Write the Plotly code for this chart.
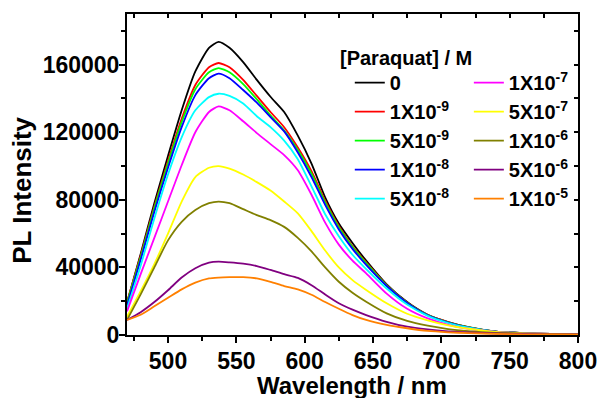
import plotly.graph_objects as go

# Emission wavelengths (nm)
wavelength = [470, 480, 490, 500, 510, 520, 530, 537, 545, 555, 565, 575, 585, 595,
              605, 615, 625, 635, 645, 660, 675, 690, 705, 720, 740, 760, 780, 800]

# PL intensity for each paraquat concentration
pl_0 = [19000, 48000, 78000, 106000, 133000, 156000, 170000, 173500, 170000, 161500, 151000, 141000, 132000, 118000,
        101500, 81500, 66000, 54500, 44000, 30000, 19500, 12000, 7700, 4600, 2000, 1100, 700, 500]
pl_1e9 = [19500, 47000, 76000, 103000, 128000, 148000, 158500, 161000, 158500, 151000, 141500, 132000, 123000, 111000,
          97000, 79500, 64500, 52500, 43000, 29500, 19300, 11900, 7600, 4500, 2000, 1100, 700, 500]
pl_5e9 = [19000, 46000, 75000, 101500, 126000, 145500, 155500, 158000, 155500, 148500, 139500, 130000, 121000, 109500,
          95500, 78500, 63800, 52000, 42500, 29300, 19100, 11800, 7500, 4500, 2000, 1100, 700, 500]
pl_1e8 = [17500, 44500, 73000, 99000, 123000, 142000, 152000, 154700, 152000, 145000, 137500, 129000, 120500, 108000,
          93500, 77000, 62500, 51000, 41500, 29000, 19000, 11700, 7400, 4400, 2000, 1100, 700, 500]
pl_5e8 = [15500, 41000, 69000, 95000, 117000, 133000, 140800, 142800, 141500, 137000, 129500, 123000, 115000, 104000,
          88000, 71500, 58500, 47500, 39000, 27500, 18000, 11300, 7100, 4300, 1900, 1000, 650, 450]
pl_1e7 = [14000, 36000, 57500, 79000, 100500, 120000, 132000, 135300, 133000, 126500, 119500, 113000, 106500, 97500,
          83000, 66500, 53500, 44000, 36500, 24500, 15500, 9800, 6000, 3700, 1800, 1000, 600, 400]
pl_5e7 = [10800, 26000, 42000, 60000, 79000, 93500, 99000, 100000, 98500, 95000, 90500, 85500, 79000, 72000,
          61500, 50000, 40000, 32500, 26700, 18800, 12600, 8700, 5700, 3700, 1800, 1000, 600, 400]
pl_1e6 = [8900, 24000, 40000, 56000, 67000, 74000, 78000, 79000, 78000, 74500, 71000, 68000, 64000, 57500,
          49500, 40000, 31500, 25000, 19700, 12800, 8300, 5500, 3500, 2300, 1300, 800, 500, 300]
pl_5e6 = [8900, 13500, 19500, 26500, 34000, 39500, 42800, 43400, 43000, 42200, 40800, 38500, 36000, 33800,
          29500, 24000, 18800, 15000, 11800, 7800, 4900, 3300, 2200, 1500, 900, 600, 400, 300]
pl_1e5 = [8900, 12000, 17000, 22000, 27000, 31000, 33500, 34000, 34200, 34200, 33500, 31500, 29000, 27000,
          23800, 19500, 15500, 11800, 8900, 6000, 4000, 2400, 1600, 1100, 700, 400, 300, 200]

series = [
    ("0", pl_0, "#000000", "legend"),
    ("1X10<sup>-9</sup>", pl_1e9, "#FF0000", "legend"),
    ("5X10<sup>-9</sup>", pl_5e9, "#00FF00", "legend"),
    ("1X10<sup>-8</sup>", pl_1e8, "#0000FF", "legend"),
    ("5X10<sup>-8</sup>", pl_5e8, "#00FFFF", "legend"),
    ("1X10<sup>-7</sup>", pl_1e7, "#FF00FF", "legend2"),
    ("5X10<sup>-7</sup>", pl_5e7, "#FFFF00", "legend2"),
    ("1X10<sup>-6</sup>", pl_1e6, "#808000", "legend2"),
    ("5X10<sup>-6</sup>", pl_5e6, "#800080", "legend2"),
    ("1X10<sup>-5</sup>", pl_1e5, "#FF8000", "legend2"),
]

FONT = "Liberation Sans, Arial, sans-serif"

fig = go.Figure()
for name, vals, color, lg in series:
    fig.add_trace(go.Scatter(
        x=wavelength, y=vals, mode="lines", name=name,
        line=dict(color=color, width=1.8, shape="spline", smoothing=0.6),
        legend=lg,
    ))

# empty trace so the top/right frame axes get drawn
fig.add_trace(go.Scatter(x=[], y=[], xaxis="x2", yaxis="y2", showlegend=False, hoverinfo="skip"))

legend_style = dict(
    font=dict(family=FONT, size=20, color="black", weight="bold"),
    bgcolor="rgba(0,0,0,0)", borderwidth=0, yanchor="top", xanchor="left",
    traceorder="normal", tracegroupgap=0,
)

fig.update_layout(
    width=598, height=398,
    margin=dict(l=127, r=20, t=14, b=63, autoexpand=False),
    paper_bgcolor="white", plot_bgcolor="white",
    font=dict(family=FONT, color="black", weight="bold"),
    showlegend=True,
    legend=dict(x=0.494, y=0.847, **legend_style),
    legend2=dict(x=0.758, y=0.847, **legend_style),
    xaxis=dict(
        range=[470, 800], tickvals=[500, 550, 600, 650, 700, 750, 800],
        ticks="outside", ticklen=6, tickwidth=2, tickcolor="black",
        minor=dict(tickvals=[475, 525, 575, 625, 675, 725, 775], ticks="outside",
                   ticklen=4, tickwidth=2, tickcolor="black"),
        showline=True, linewidth=2, linecolor="black", showgrid=False, zeroline=False,
        tickfont=dict(family=FONT, size=23, color="black", weight="bold"),
        ticklabelstandoff=-2,
        automargin=False,
    ),
    yaxis=dict(
        range=[0, 190000], tickvals=[0, 40000, 80000, 120000, 160000], tickformat="d",
        ticks="outside", ticklen=6, tickwidth=2, tickcolor="black",
        minor=dict(tickvals=[20000, 60000, 100000, 140000, 180000], ticks="outside",
                   ticklen=4, tickwidth=2, tickcolor="black"),
        showline=True, linewidth=2, linecolor="black", showgrid=False, zeroline=False,
        tickfont=dict(family=FONT, size=23, color="black", weight="bold"),
        ticklabelstandoff=-5,
        automargin=False,
    ),
    # frame with inward ticks on top and right
    xaxis2=dict(
        overlaying="x", anchor="y2", side="top", range=[470, 800],
        tickvals=[475, 500, 525, 550, 575, 600, 625, 650, 675, 700, 725, 750, 775],
        ticks="inside", ticklen=4, tickwidth=2, tickcolor="black", showticklabels=False,
        showline=True, linewidth=2, linecolor="black", showgrid=False, zeroline=False,
        automargin=False,
    ),
    yaxis2=dict(
        overlaying="y", anchor="x2", side="right", range=[0, 190000],
        tickvals=[20000, 40000, 60000, 80000, 100000, 120000, 140000, 160000, 180000],
        ticks="inside", ticklen=4, tickwidth=2, tickcolor="black", showticklabels=False,
        showline=True, linewidth=2, linecolor="black", showgrid=False, zeroline=False,
        automargin=False,
    ),
)

# axis titles
fig.add_annotation(
    text="Wavelength / nm", xref="paper", yref="paper", x=0.499, y=-0.1576,
    xanchor="center", yanchor="middle", showarrow=False,
    font=dict(family=FONT, size=24, color="black", weight="bold"),
)
fig.add_annotation(
    text="PL Intensity", xref="paper", yref="paper", x=-0.233, y=0.452,
    xanchor="center", yanchor="middle", showarrow=False, textangle=-90,
    font=dict(family=FONT, size=26, color="black", weight="bold"),
)
# legend heading
fig.add_annotation(
    text="[Paraquat] / M", xref="paper", yref="paper", x=0.468, y=0.863,
    xanchor="left", yanchor="middle", showarrow=False,
    font=dict(family=FONT, size=20, color="black", weight="bold"),
)

fig.write_html("out.html")
